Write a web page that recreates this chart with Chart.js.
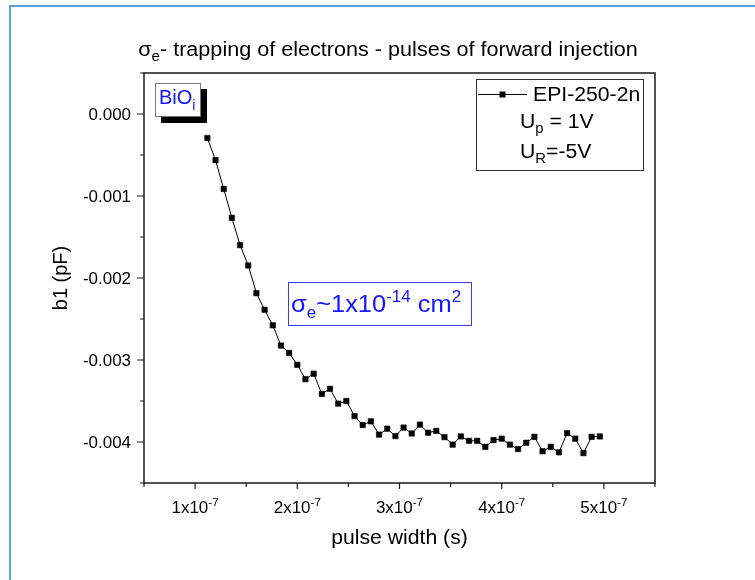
<!DOCTYPE html>
<html>
<head>
<meta charset="utf-8">
<script src="https://cdn.jsdelivr.net/npm/chart.js@4.4.1/dist/chart.umd.min.js"></script>
<style>
  html, body { margin: 0; padding: 0; background: #fff; }
  #wrap { width: 755px; height: 580px; }
</style>
</head>
<body>
<div id="wrap"><canvas id="chart" width="755" height="580"></canvas></div>
<script>
// --- data ---
const pulseWidth = [
  1.12e-7, 1.20e-7, 1.28e-7, 1.36e-7, 1.44e-7, 1.52e-7, 1.60e-7, 1.68e-7, 1.76e-7, 1.84e-7,
  1.92e-7, 2.00e-7, 2.08e-7, 2.16e-7, 2.24e-7, 2.32e-7, 2.40e-7, 2.48e-7, 2.56e-7, 2.64e-7,
  2.72e-7, 2.80e-7, 2.88e-7, 2.96e-7, 3.04e-7, 3.12e-7, 3.20e-7, 3.28e-7, 3.36e-7, 3.44e-7,
  3.52e-7, 3.60e-7, 3.68e-7, 3.76e-7, 3.84e-7, 3.92e-7, 4.00e-7, 4.08e-7, 4.16e-7, 4.24e-7,
  4.32e-7, 4.40e-7, 4.48e-7, 4.56e-7, 4.64e-7, 4.72e-7, 4.80e-7, 4.88e-7, 4.96e-7
];
const b1 = [
  -0.000293, -0.000563, -0.000914, -0.001266, -0.001599, -0.001847, -0.002185, -0.002387, -0.002577, -0.002824,
  -0.002914, -0.003059, -0.003234, -0.003167, -0.003414, -0.003351, -0.003532, -0.003500, -0.003685, -0.003793,
  -0.003748, -0.003910, -0.003838, -0.003928, -0.003824, -0.003896, -0.003788, -0.003887, -0.003865, -0.003941,
  -0.004032, -0.003932, -0.003986, -0.003986, -0.004059, -0.003977, -0.003959, -0.004032, -0.004086, -0.004009,
  -0.003937, -0.004113, -0.004059, -0.004126, -0.003892, -0.003959, -0.004135, -0.003937, -0.003932
];

// ticks
const xMajorTicks = [1e-7, 2e-7, 3e-7, 4e-7, 5e-7];
const xTickLabels = ['1x10', '2x10', '3x10', '4x10', '5x10'];
const xTickExp = '-7';
const xMinorTicks = [0.5e-7, 1.5e-7, 2.5e-7, 3.5e-7, 4.5e-7, 5.5e-7];
const yMajorTicks = [0, -0.001, -0.002, -0.003, -0.004];
const yTickLabels = ['0.000', '-0.001', '-0.002', '-0.003', '-0.004'];
const yMinorTicks = [0.0005, -0.0005, -0.0015, -0.0025, -0.0035, -0.0045];

const FONT = '"Liberation Sans", Arial, sans-serif';
const SX = 1.06;   // the original text is a bit wide
const BLUE = '#1414ff';

// draws a run of text pieces: [text, size, dy]
function drawRich(ctx, parts, x, y, align, sx) {
  ctx.save();
  let w = 0;
  parts.forEach(p => { ctx.font = p[1] + 'px ' + FONT; w += ctx.measureText(p[0]).width; });
  ctx.translate(x, y);
  ctx.scale(sx, 1);
  let cx = align === 'center' ? -w / 2 : (align === 'right' ? -w : 0);
  ctx.textAlign = 'left';
  ctx.textBaseline = 'alphabetic';
  parts.forEach(p => {
    ctx.font = p[1] + 'px ' + FONT;
    ctx.fillText(p[0], cx, p[2] || 0);
    cx += ctx.measureText(p[0]).width;
  });
  ctx.restore();
}

const decorPlugin = {
  id: 'decor',
  beforeDraw(chart) {
    const ctx = chart.ctx;
    ctx.save();
    ctx.fillStyle = '#fff';
    ctx.fillRect(0, 0, chart.width, chart.height);
    // outer blue frame
    ctx.strokeStyle = '#62a0dc';
    ctx.lineWidth = 2;
    ctx.beginPath();
    ctx.moveTo(10, chart.height);
    ctx.lineTo(10, 6);
    ctx.lineTo(chart.width, 6);
    ctx.stroke();
    ctx.restore();
  },
  afterDraw(chart) {
    const ctx = chart.ctx;
    const a = chart.chartArea;
    const xs = chart.scales.x, ys = chart.scales.y;
    ctx.save();

    // axis box
    ctx.strokeStyle = '#1a1a1a';
    ctx.lineWidth = 1.5;
    ctx.strokeRect(a.left, a.top, a.right - a.left, a.bottom - a.top);

    // tick marks
    ctx.lineWidth = 1.2;
    ctx.beginPath();
    xMajorTicks.forEach(v => { const px = xs.getPixelForValue(v); ctx.moveTo(px, a.bottom); ctx.lineTo(px, a.bottom + 6); });
    xMinorTicks.forEach(v => { const px = xs.getPixelForValue(v); ctx.moveTo(px, a.bottom); ctx.lineTo(px, a.bottom + 4); });
    yMajorTicks.forEach(v => { const py = ys.getPixelForValue(v); ctx.moveTo(a.left, py); ctx.lineTo(a.left - 7, py); });
    yMinorTicks.forEach(v => { const py = ys.getPixelForValue(v); ctx.moveTo(a.left, py); ctx.lineTo(a.left - 4, py); });
    ctx.stroke();

    // tick labels
    ctx.fillStyle = '#000';
    xMajorTicks.forEach((v, i) => {
      drawRich(ctx, [[xTickLabels[i], 16], [xTickExp, 11, -7]], xs.getPixelForValue(v), a.bottom + 30, 'center', SX);
    });
    yMajorTicks.forEach((v, i) => {
      drawRich(ctx, [[yTickLabels[i], 16]], a.left - 13, ys.getPixelForValue(v) + 6, 'right', SX);
    });

    // axis titles
    drawRich(ctx, [['pulse width (s)', 20]], (a.left + a.right) / 2, 544, 'center', SX);
    ctx.save();
    ctx.translate(67, (a.top + a.bottom) / 2);
    ctx.rotate(-Math.PI / 2);
    drawRich(ctx, [['b1 (pF)', 20]], 0, 0, 'center', 1);
    ctx.restore();

    // title
    drawRich(ctx, [['σ', 20], ['e', 14, 5], ['- trapping of electrons - pulses of forward injection', 20]],
      388, 56, 'center', 1.08);

    // BiOi label with shadow
    ctx.fillStyle = '#000';
    ctx.fillRect(161, 89, 46, 34);
    ctx.fillStyle = '#fff';
    ctx.fillRect(155, 83, 46, 34);
    ctx.strokeStyle = '#777';
    ctx.lineWidth = 1;
    ctx.strokeRect(155.5, 83.5, 45, 33);
    ctx.fillStyle = BLUE;
    drawRich(ctx, [['BiO', 20], ['i', 14, 6]], 159, 104, 'left', 1);

    // cross-section annotation
    ctx.strokeStyle = '#3a3aff';
    ctx.strokeRect(288.5, 282.5, 183, 43);
    ctx.fillStyle = BLUE;
    drawRich(ctx, [['σ', 24], ['e', 16, 6], ['~1x10', 24], ['-14', 16, -10], [' cm', 24], ['2', 16, -10]],
      291, 312, 'left', SX);

    // legend
    ctx.fillStyle = '#fff';
    ctx.fillRect(476, 80, 167, 90);
    ctx.strokeStyle = '#333';
    ctx.lineWidth = 1;
    ctx.strokeRect(476.5, 79.5, 167, 91);
    ctx.strokeStyle = '#000';
    ctx.beginPath();
    ctx.moveTo(478, 94.5);
    ctx.lineTo(527, 94.5);
    ctx.stroke();
    ctx.fillStyle = '#000';
    ctx.fillRect(499.5, 91.5, 6, 6);
    drawRich(ctx, [['EPI-250-2n', 20]], 533, 101, 'left', SX);
    drawRich(ctx, [['U', 20], ['p', 14, 5], [' = 1V', 20]], 520, 128, 'left', SX);
    drawRich(ctx, [['U', 20], ['R', 14, 5], ['=-5V', 20]], 520, 158, 'left', SX);

    ctx.restore();
  }
};

new Chart(document.getElementById('chart').getContext('2d'), {
  type: 'line',
  data: {
    datasets: [{
      label: 'EPI-250-2n',
      data: pulseWidth.map((x, i) => ({ x: x, y: b1[i] })),
      borderColor: '#000',
      backgroundColor: '#000',
      borderWidth: 1,
      pointStyle: 'rect',
      pointRadius: 3.8,
      pointBorderWidth: 0.6,
      tension: 0
    }]
  },
  options: {
    responsive: false,
    animation: false,
    devicePixelRatio: 1,
    layout: { padding: { left: 0, top: 73, right: 100, bottom: 0 } },
    plugins: { legend: { display: false }, title: { display: false }, tooltip: { enabled: false } },
    scales: {
      x: {
        type: 'linear',
        min: 0.5e-7,
        max: 5.5e-7,
        grid: { display: false, drawTicks: false },
        border: { display: false },
        ticks: { display: false },
        afterFit: s => { s.height = 97; }
      },
      y: {
        type: 'linear',
        min: -0.0045,
        max: 0.0005,
        grid: { display: false, drawTicks: false },
        border: { display: false },
        ticks: { display: false },
        afterFit: s => { s.width = 144; }
      }
    }
  },
  plugins: [decorPlugin]
});
</script>
</body>
</html>
